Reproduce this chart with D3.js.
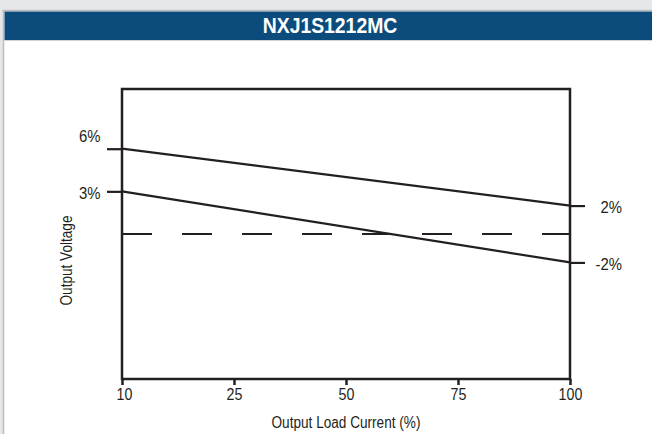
<!DOCTYPE html>
<html>
<head>
<meta charset="utf-8">
<script src="https://cdn.jsdelivr.net/npm/d3@7"></script>
<style>
  html, body { margin: 0; padding: 0; background: #e6e7e8; }
  svg { display: block; }
  text { font-family: "Liberation Sans Narrow", "Arial Narrow", "Liberation Sans", Arial, sans-serif; }
</style>
</head>
<body>
<svg id="chart" width="652" height="434"></svg>
<script>
// ---- data ----
const title = "NXJ1S1212MC";
const loadCategories = ["10", "25", "50", "75", "100"];
const upperLimit = [6, 2];      // % at 10% load, % at 100% load
const lowerLimit = [3, -2];     // % at 10% load, % at 100% load
const nominal = [0, 0];
const leftTickValues = [6, 3];
const leftTickLabels = ["6%", "3%"];
const rightTickValues = [2, -2];
const rightTickLabels = ["2%", "-2%"];
const xTitle = "Output Load Current (%)";
const yTitle = "Output Voltage";

(function () {
const svg = d3.select("#chart");
const W = 652, H = 434;

// condense text horizontally (the reference uses a condensed sans face)
function condense(sel, k) {
  sel.each(function () {
    const len = this.getComputedTextLength();
    d3.select(this).attr("textLength", len * k).attr("lengthAdjust", "spacingAndGlyphs");
  });
}

// card
svg.append("rect").attr("x", 0).attr("y", 0).attr("width", W).attr("height", H).attr("fill", "#e6e7e8");
svg.append("rect").attr("x", 3.5).attr("y", 10.5).attr("width", W).attr("height", H)
  .attr("fill", "#ffffff").attr("stroke", "#bcbcbc").attr("stroke-width", 1.5);
svg.append("rect").attr("x", 4.5).attr("y", 11.5).attr("width", W).attr("height", 28.5).attr("fill", "#0b4c7d");
svg.append("line").attr("x1", 4.5).attr("x2", W).attr("y1", 40.5).attr("y2", 40.5)
  .attr("stroke", "#d0d0d0").attr("stroke-width", 1.2);
svg.append("text").attr("x", 330).attr("y", 33).attr("text-anchor", "middle")
  .attr("fill", "#ffffff").attr("font-weight", "bold").attr("font-size", 22).text(title)
  .call(condense, 0.88);

// plot area
const pLeft = 122, pRight = 570, pTop = 89, pBottom = 379;
const x = d3.scalePoint().domain(loadCategories).range([pLeft, pRight]);
const y = d3.scaleLinear().domain([-10.2, 10.2]).range([pBottom, pTop]);

const ink = "#231f20";

// data lines
const ends = [loadCategories[0], loadCategories[loadCategories.length - 1]];
const line = d3.line().x((d, i) => x(ends[i])).y(d => y(d));
svg.append("path").datum(upperLimit).attr("d", line).attr("fill", "none").attr("stroke", ink).attr("stroke-width", 2.2);
svg.append("path").datum(lowerLimit).attr("d", line).attr("fill", "none").attr("stroke", ink).attr("stroke-width", 2.2);
svg.append("path").datum(nominal).attr("d", line).attr("fill", "none").attr("stroke", ink)
  .attr("stroke-width", 2.2).attr("stroke-dasharray", "30,30");

// frame
svg.append("rect").attr("x", pLeft).attr("y", pTop).attr("width", pRight - pLeft).attr("height", pBottom - pTop)
  .attr("fill", "none").attr("stroke", ink).attr("stroke-width", 2.5);

// bottom axis
const xAxis = d3.axisBottom(x).tickSize(6).tickPadding(4);
const gx = svg.append("g").attr("transform", `translate(0,${pBottom})`).call(xAxis);
gx.select(".domain").remove();
gx.selectAll(".tick line").attr("stroke", ink).attr("stroke-width", 2.5);
gx.selectAll(".tick text").attr("fill", "#231f20").attr("font-size", 16).attr("font-family", null)
  .attr("dy", null).attr("y", 20.5);
gx.selectAll(".tick text").filter(d => d === "10").attr("dx", 2);
gx.selectAll(".tick text").call(condense, 0.89);

// left ticks
const gl = svg.append("g").attr("transform", `translate(${pLeft},0)`)
  .call(d3.axisLeft(y).tickValues(leftTickValues).tickSize(15).tickFormat((d, i) => leftTickLabels[i]));
gl.select(".domain").remove();
gl.selectAll(".tick line").attr("stroke", ink).attr("stroke-width", 2.2);
gl.selectAll(".tick text").attr("fill", "#231f20").attr("font-size", 16).attr("font-family", null)
  .attr("x", -21.5).attr("dy", null)
  .attr("y", d => d === 6 ? -7 : 7)
  .call(condense, 0.93);

// right ticks
const gr = svg.append("g").attr("transform", `translate(${pRight},0)`)
  .call(d3.axisRight(y).tickValues(rightTickValues).tickSize(15).tickFormat((d, i) => rightTickLabels[i]));
gr.select(".domain").remove();
gr.selectAll(".tick line").attr("stroke", ink).attr("stroke-width", 2.2);
gr.selectAll(".tick text").attr("fill", "#231f20").attr("font-size", 16).attr("font-family", null)
  .attr("text-anchor", "end").attr("x", 52).attr("dy", null).attr("y", 7)
  .call(condense, 0.93);

// axis titles
svg.append("text").attr("x", (pLeft + pRight) / 2).attr("y", 428).attr("text-anchor", "middle")
  .attr("fill", "#231f20").attr("font-size", 16).text(xTitle)
  .call(condense, 0.85);
svg.append("text").attr("transform", `translate(72,${(215 + 306) / 2}) rotate(-90)`).attr("text-anchor", "middle")
  .attr("fill", "#231f20").attr("font-size", 16).text(yTitle)
  .call(condense, 0.85);
})();
</script>
</body>
</html>
